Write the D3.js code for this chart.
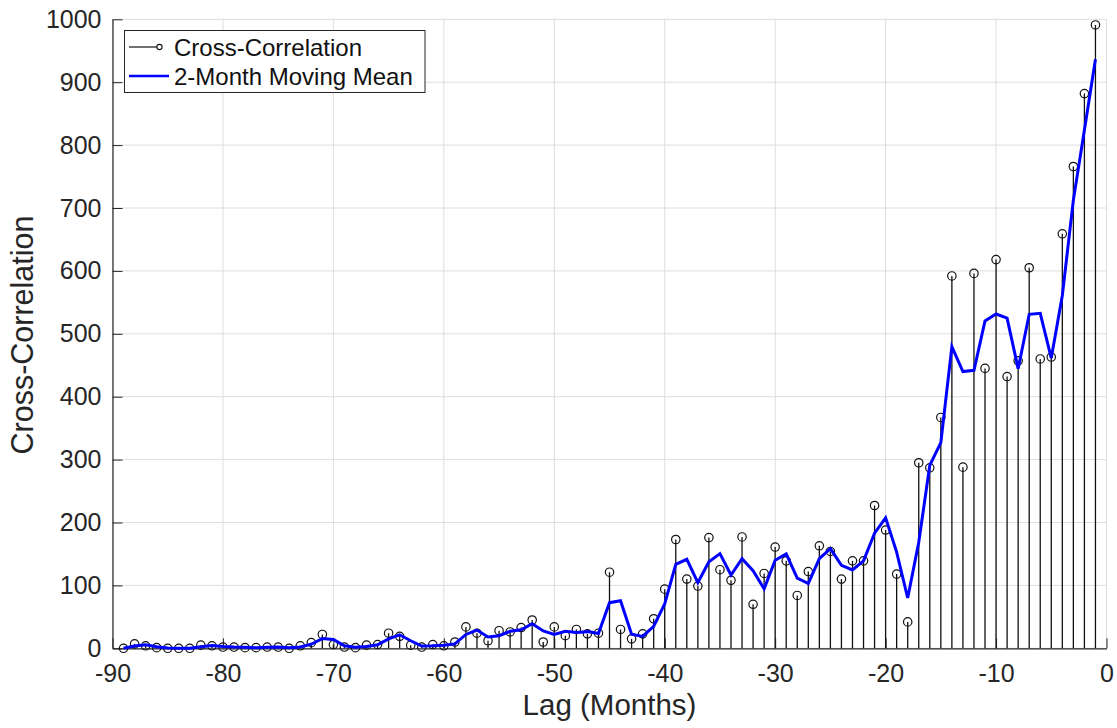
<!DOCTYPE html>
<html>
<head>
<meta charset="utf-8">
<script src="https://cdn.jsdelivr.net/npm/d3@7"></script>
<style>
  body { margin: 0; background: #ffffff; }
  svg { display: block; font-family: "Liberation Sans", Arial, Helvetica, sans-serif; }
</style>
</head>
<body>
<script>

// lags in months, -89 .. -1
var lags = d3.range(-89, 0);

// cross-correlation value at each lag
var crossCorr = [
  0, 7, 4, 1, 0, 0, 0, 5, 4, 2,           // -89 .. -80
  2, 1, 1, 2, 2, 0, 4, 9, 22, 6,          // -79 .. -70
  2, 1, 5, 6, 24, 19, 5, 2, 6, 4,         // -69 .. -60
  10, 34, 24, 12, 28, 26, 33, 45, 10, 34, // -59 .. -50
  20, 30, 23, 24, 121, 30, 15, 23, 47, 94, // -49 .. -40
  173, 110, 99, 176, 125, 108, 177, 70, 119, 161, // -39 .. -30
  139, 84, 122, 163, 154, 110, 139, 139, 227, 188, // -29 .. -20
  118, 42, 295, 287, 367, 592, 288, 596, 445, 618, // -19 .. -10
  432, 457, 605, 460, 463, 659, 766, 882, 991      // -9 .. -1
];

var xTicks = [-90, -80, -70, -60, -50, -40, -30, -20, -10, 0];
var yTicks = [0, 100, 200, 300, 400, 500, 600, 700, 800, 900, 1000];
var legendLabels = ["Cross-Correlation", "2-Month Moving Mean"];

// 2-month moving mean (current and previous month, like movmean(x,2))
var movMean = crossCorr.map(function(d, i) {
  return d3.mean(crossCorr.slice(Math.max(0, i - 1), i + 1));
});

var width = 1117, height = 728;
var plotLeft = 112.5, plotRight = 1106.5, plotTop = 19.3, plotBottom = 648.3;
var axisColor = "#262626";

var svg = d3.select("body").append("svg")
  .attr("width", width)
  .attr("height", height);

var x = d3.scaleLinear().domain([-90, 0]).range([plotLeft, plotRight]);
var y = d3.scaleLinear().domain([0, 1000]).range([plotBottom, plotTop]);

// grid lines
var grid = svg.append("g");
grid.selectAll(".gx").data(xTicks).enter().append("line")
  .attr("x1", d => x(d)).attr("x2", d => x(d))
  .attr("y1", plotTop).attr("y2", plotBottom)
  .attr("stroke", "#dedede").attr("stroke-width", 1);
grid.selectAll(".gy").data(yTicks).enter().append("line")
  .attr("x1", plotLeft).attr("x2", plotRight)
  .attr("y1", d => y(d)).attr("y2", d => y(d))
  .attr("stroke", "#dedede").attr("stroke-width", 1);

// axes, ticks pointing inward like matlab
var xAxis = d3.axisBottom(x).tickValues(xTicks).tickFormat(d => String(d))
  .tickSizeInner(-10).tickSizeOuter(0).tickPadding(16);
var yAxis = d3.axisLeft(y).tickValues(yTicks).tickFormat(d => String(d))
  .tickSizeInner(-10).tickSizeOuter(0).tickPadding(11);

var gx = svg.append("g")
  .attr("transform", "translate(0," + plotBottom + ")")
  .call(xAxis);
var gy = svg.append("g")
  .attr("transform", "translate(" + plotLeft + ",0)")
  .call(yAxis);

[gx, gy].forEach(function(g) {
  g.attr("font-size", null).attr("font-family", null);
  g.select(".domain").attr("stroke", axisColor).attr("stroke-width", 1.2);
  g.selectAll(".tick line").attr("stroke", axisColor).attr("stroke-width", 1);
  g.selectAll(".tick text")
    .attr("fill", axisColor)
    .style("font-size", "25px");
});
gx.selectAll(".tick text").attr("dy", "0.71em");

// stems
svg.append("g").selectAll("line")
  .data(crossCorr)
  .enter()
  .append("line")
  .attr("x1", (d, i) => x(lags[i]))
  .attr("x2", (d, i) => x(lags[i]))
  .attr("y1", y(0))
  .attr("y2", d => y(d))
  .attr("stroke", "#111")
  .attr("stroke-width", 1.3);

// stem markers
svg.append("g").selectAll("circle")
  .data(crossCorr)
  .enter()
  .append("circle")
  .attr("cx", (d, i) => x(lags[i]))
  .attr("cy", d => y(d))
  .attr("r", 4.2)
  .attr("fill", "none")
  .attr("stroke", "#111")
  .attr("stroke-width", 1.2);

// moving mean line
var line = d3.line()
  .x((d, i) => x(lags[i]))
  .y(d => y(d));

svg.append("path")
  .datum(movMean)
  .attr("d", line)
  .attr("fill", "none")
  .attr("stroke", "#0000ff")
  .attr("stroke-width", 3)
  .attr("stroke-linejoin", "miter");

// axis titles
svg.append("text")
  .attr("x", (plotLeft + plotRight) / 2)
  .attr("y", 715)
  .attr("text-anchor", "middle")
  .attr("fill", axisColor)
  .style("font-size", "29.5px")
  .text("Lag (Months)");

svg.append("text")
  .attr("transform", "translate(22,335)rotate(-90)")
  .attr("text-anchor", "middle")
  .attr("dy", "0.35em")
  .attr("fill", axisColor)
  .style("font-size", "30.5px")
  .text("Cross-Correlation");

// legend
var legend = svg.append("g");
legend.append("rect")
  .attr("x", 124.5).attr("y", 30.5)
  .attr("width", 300.5).attr("height", 62)
  .attr("fill", "#fff")
  .attr("stroke", axisColor)
  .attr("stroke-width", 1);

var rowY = [47, 76];

legend.append("line")
  .attr("x1", 129).attr("x2", 157)
  .attr("y1", rowY[0]).attr("y2", rowY[0])
  .attr("stroke", "#111").attr("stroke-width", 1.2);
legend.append("circle")
  .attr("cx", 159.5).attr("cy", rowY[0]).attr("r", 2.6)
  .attr("fill", "#fff").attr("stroke", "#111").attr("stroke-width", 1.1);
legend.append("line")
  .attr("x1", 129).attr("x2", 169)
  .attr("y1", rowY[1]).attr("y2", rowY[1])
  .attr("stroke", "#0000ff").attr("stroke-width", 2.5);

legend.selectAll("text")
  .data(legendLabels)
  .enter()
  .append("text")
  .attr("x", 174)
  .attr("y", (d, i) => rowY[i])
  .attr("dy", "0.36em")
  .attr("fill", "#111")
  .style("font-size", "24px")
  .text(d => d);

</script>
</body>
</html>
